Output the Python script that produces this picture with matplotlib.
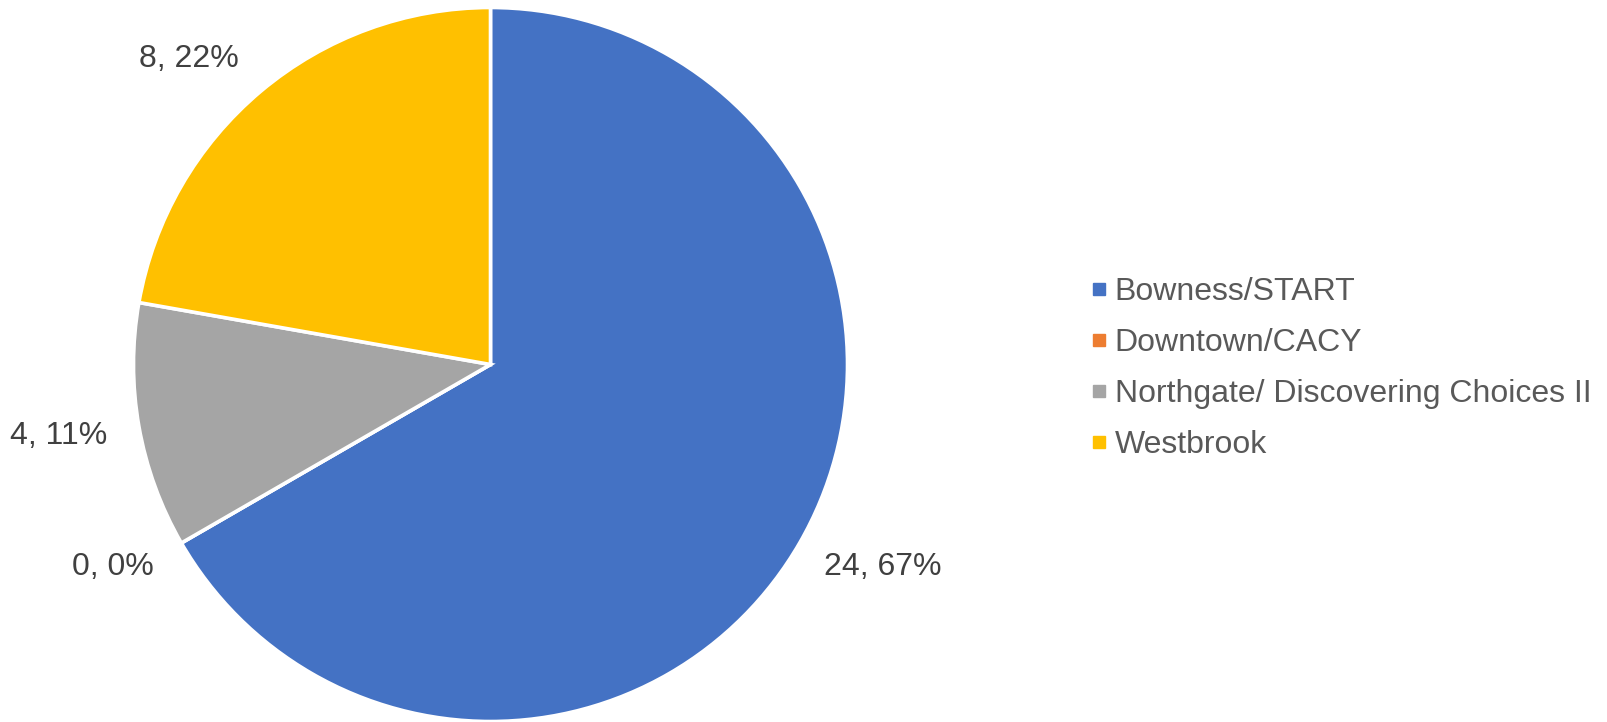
import matplotlib
matplotlib.use("Agg")
import matplotlib.pyplot as plt
from matplotlib.lines import Line2D

# ---- data ----
SITES = ["Bowness/START", "Downtown/CACY", "Northgate/ Discovering Choices II", "Westbrook"]
COUNTS = [24, 0, 4, 8]
COLORS = ["#4472C4", "#ED7D31", "#A5A5A5", "#FFC000"]

# best-fit label spots (pie radius = 1)
LABEL_XY = [(1.10, -0.567), (-1.057, -0.567), (-1.21, -0.20), (-0.845, 0.857)]

plt.rcParams["font.family"] = ["Liberation Sans", "DejaVu Sans"]

W, H = 1608, 722
fig = plt.figure(figsize=(W / 100, H / 100), dpi=100)

# square axes holding the pie (pixel box -> figure fraction)
cx, cy, R = 490.5, 364.5, 357.0
ax = fig.add_axes([(cx - R) / W, (H - cy - R) / H, 2 * R / W, 2 * R / H])

total = sum(COUNTS)
labels = [f"{c}, {round(100 * c / total)}%" for c in COUNTS]

wedges, texts = ax.pie(
    COUNTS,
    colors=COLORS,
    startangle=90,
    counterclock=False,
    labels=labels,
    labeldistance=1.22,
    wedgeprops=dict(edgecolor="white", linewidth=2.6),
    textprops=dict(ha="center", va="center", fontsize=23, color="#404040"),
)
for t, xy in zip(texts, LABEL_XY):
    t.set_position(xy)
ax.set_xlim(-1, 1)
ax.set_ylim(-1, 1)
ax.set_aspect("equal")

handles = [Line2D([], [], linestyle="none", marker="s", markersize=8.5,
                  markerfacecolor=c, markeredgecolor=c) for c in COLORS]
leg = fig.legend(
    handles, SITES,
    loc="center left",
    bbox_to_anchor=(1073 / W, 1 - 368.5 / H),
    frameon=False,
    fontsize=23,
    labelcolor="#595959",
    handlelength=0.6,
    handletextpad=0.2,
    labelspacing=0.655,
    borderpad=0,
)

fig.savefig("out.png", dpi=100)
